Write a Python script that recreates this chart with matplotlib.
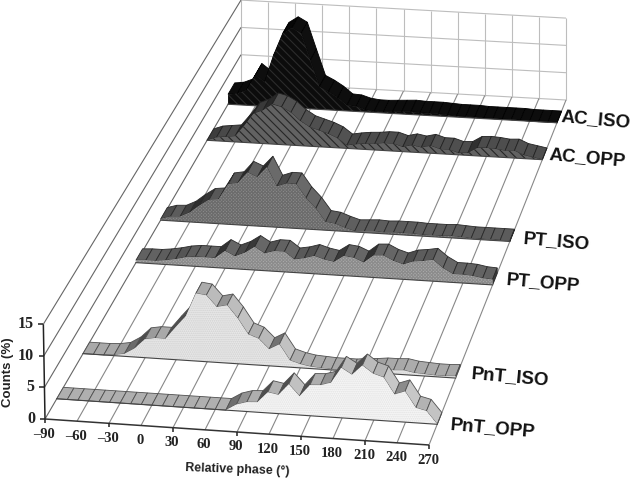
import numpy as np
import matplotlib
matplotlib.use("Agg")
import matplotlib.pyplot as plt
from matplotlib.patches import Polygon

phase = list(range(-90, 271, 10))
phase_ticks = list(range(-90, 271, 30))
count_ticks = [0, 5, 10, 15]

ac_iso = [1.8, 2.0, 2.7, 5.6, 4.4, 9.4, 13.4, 14.5, 13.6, 8.8, 4.1, 3.3, 2.3, 1.0, 0.9, 0.4, 0.2, 0.2, 0.3, 0.4,
          0.5, 0.4, 0.4, 0.4, 0.3, 0.2, 0.2, 0.2, 0.1, 0.1, 0.1, 0.1, 0.1, 0.0, 0.0, 0.0, 0.0]
ac_opp = [0.0, 0.6, 0.8, 1.0, 3.0, 5.2, 5.9, 7.1, 6.7, 5.8, 4.4, 3.4, 2.9, 2.4, 1.7, 0.5, 0.8, 1.0, 1.1, 1.3,
          1.3, 0.8, 1.2, 0.9, 1.3, 0.8, 0.8, 0.3, 0.4, 1.4, 1.5, 1.4, 1.2, 1.3, 0.6, 0.3, 0.0]
pt_iso = [0.2, 0.7, 0.8, 1.6, 2.9, 4.0, 4.2, 6.9, 7.2, 9.1, 8.4, 10.2, 7.0, 7.6, 7.6, 5.3, 3.6, 1.4, 1.2, 0.6,
          0.1, 0.2, 0.3, 0.2, 0.3, 0.3, 0.3, 0.2, 0.2, 0.2, 0.3, 0.2, 0.1, 0.1, 0.1, 0.1, 0.1]
pt_opp = [0.4, 0.5, 0.5, 0.7, 1.0, 1.4, 1.6, 1.6, 1.6, 2.9, 2.1, 2.8, 3.9, 2.9, 3.4, 3.4, 2.2, 2.5, 3.0, 2.5,
          2.2, 3.3, 3.1, 2.4, 3.7, 3.8, 3.0, 2.5, 3.1, 3.3, 3.6, 2.3, 1.4, 1.4, 1.3, 1.0, 0.9]
pnt_iso = [0.0, 0.0, 0.0, 0.1, 0.4, 1.4, 3.0, 3.3, 3.3, 5.3, 7.2, 11.0, 10.8, 9.0, 9.4, 7.4, 4.9, 4.3, 2.7, 3.6,
           1.1, 0.6, 0.3, 0.2, 0.1, 0.1, 0.1, 0.3, 0.4, 0.6, 0.6, 0.7, 0.4, 0.3, 0.2, 0.2, 0.3]
pnt_opp = [0.0, 0.0, 0.0, 0.0, 0.0, 0.0, 0.0, 0.0, 0.0, 0.0, 0.0, 0.0, 0.0, 0.0, 0.0, 0.0, 0.0, 1.0, 1.5, 1.6,
           3.3, 3.0, 4.8, 3.0, 4.9, 5.0, 5.5, 8.0, 7.0, 8.6, 7.4, 6.9, 4.3, 4.9, 2.4, 2.0, 0.0]

series_names = ["AC_ISO", "AC_OPP", "PT_ISO", "PT_OPP", "PnT_ISO", "PnT_OPP"]
series_values = [ac_iso, ac_opp, pt_iso, pt_opp, pnt_iso, pnt_opp]

# box corners in pixels, the chart is a hand made 3d projection
front_l = np.array([45.0, 419.0])
front_r = np.array([429.0, 445.0])
back_l = np.array([241.0, 82.0])
back_r = np.array([566.0, 100.0])


def project(p, depth, count):
    u = (p + 90) / 360.0
    left = front_l + (back_l - front_l) * depth
    right = front_r + (back_r - front_r) * depth
    xy = left + (right - left) * u
    scale = 6.32 + (5.46 - 6.32) * depth
    return xy[0] - 0.11 * count * (1 - depth), xy[1] - scale * count


plt.rcParams["hatch.linewidth"] = 0.8
fig = plt.figure(figsize=(6.3, 4.79), dpi=100)
ax = fig.add_axes([0, 0, 1, 1])
ax.set_xlim(0, 630)
ax.set_ylim(479, 0)
ax.axis("off")


def line(a, b, color, lw=0.8):
    ax.plot([a[0], b[0]], [a[1], b[1]], color=color, lw=lw, solid_capstyle="butt", zorder=1)


# back wall
for p in phase_ticks:
    line(project(p, 1, 0), project(p, 1, 15), "#bdbdbd")
for c in count_ticks:
    line(project(-90, 1, c), project(270, 1, c), "#bdbdbd")
# left wall and floor
for c in count_ticks:
    line(project(-90, 0, c), project(-90, 1, c), "#666666")
for p in phase_ticks[1:]:
    line(project(p, 0, 0), project(p, 1, 0), "#888888")
line(project(-90, 0, 0), project(-90, 0, 15), "#222222", 1.1)
line(project(-90, 0, 0), project(270, 0, 0), "#333333", 1.1)

# ticks and their labels
for c in count_ticks:
    x, y = project(-90, 0, c)
    line((x - 5, y), (x, y), "#222222", 1.1)
    ax.text(x - 10, y, str(c), ha="right", va="center", family="Liberation Serif",
            fontweight="bold", fontsize=11.5, color="#222222")
for p in phase_ticks:
    x, y = project(p, 0, 0)
    if (p + 90) % 60 == 0:
        line((x, y), (x, y + 4), "#222222", 1.1)
    label = str(p).replace("-", "\u2013")
    ax.text(x - 1, y + 15, label, ha="center", va="center", family="Liberation Serif",
            fontweight="bold", fontsize=10.5, color="#222222")

ax.text(237, 470, "Relative phase (\u00b0)", ha="center", va="center", rotation=-2,
        family="Liberation Sans", fontweight="bold", fontsize=9, color="#222222")
ax.text(8, 372, "Counts (%)", ha="center", va="center", rotation=90,
        family="Liberation Sans", fontweight="bold", fontsize=9.5, color="#222222")

# depth of each series on the floor, back to front
depths = [0.934, 0.827, 0.59, 0.464, 0.194, 0.06]
thick = 0.034
ribbon_base = [0.05, 0.30, 0.36, 0.38, 0.66, 0.68]
ribbon_edge = ["#000000", "#222222", "#2a2a2a", "#2a2a2a", "#505050", "#505050"]
face_color = ["#0c0c0c", "#626262", "#8c8c8c", "#ababab", "#e8e8e8", "#f6f6f6"]
hatch_color = ["#2c2c2c", "#262626", "#6c6c6c", "#8c8c8c", "#d0d0d0", "#e2e2e2"]
hatches = ["\\\\\\\\", "\\\\\\\\", "xxxxxxxxxx", "xxxxxxxxxx", "........", "........"]
label_xy = [(596, 120), (587, 158), (556, 241), (543, 283), (510, 377), (493, 428)]

for k, vals in enumerate(series_values):
    d = depths[k]
    # top ribbon, one quad per bin
    for i in range(len(phase) - 1):
        a = project(phase[i], d, vals[i])
        b = project(phase[i + 1], d, vals[i + 1])
        c = project(phase[i + 1], d + thick, vals[i + 1])
        e = project(phase[i], d + thick, vals[i])
        slope = (a[1] - b[1]) / (b[0] - a[0])
        if slope > 0:
            shade = ribbon_base[k] * (1 - 0.55 * min(slope / 0.8, 1))
        else:
            shade = ribbon_base[k] * (1 + 0.1 * min(-slope, 1.5))
        ax.add_patch(Polygon([a, b, c, e], closed=True, facecolor=(shade, shade, shade),
                             edgecolor=ribbon_edge[k], lw=0.6, zorder=2 + k))
    # right end cap
    cap = [project(270, d, 0), project(270, d + thick, 0),
           project(270, d + thick, vals[-1]), project(270, d, vals[-1])]
    ax.add_patch(Polygon(cap, closed=True, facecolor=(ribbon_base[k] * 0.6,) * 3,
                         edgecolor=ribbon_edge[k], lw=0.6, zorder=2 + k))
    # front face down to the floor
    pts = [project(p, d, v) for p, v in zip(phase, vals)]
    pts += [project(270, d, 0), project(-90, d, 0)]
    ax.add_patch(Polygon(pts, closed=True, facecolor=face_color[k], edgecolor=hatch_color[k],
                         hatch=hatches[k], lw=0, zorder=2 + k + 0.5))
    ax.plot([project(-90, d, 0)[0], project(270, d, 0)[0]],
            [project(-90, d, 0)[1], project(270, d, 0)[1]],
            color="#444444", lw=0.8, zorder=2 + k + 0.6)
    ax.text(label_xy[k][0], label_xy[k][1], series_names[k], ha="center", va="center", rotation=-5,
            family="Liberation Sans", fontweight="bold", fontsize=13.5, color="#111111", zorder=10)

fig.savefig("out.png", dpi=100)
plt.close()
